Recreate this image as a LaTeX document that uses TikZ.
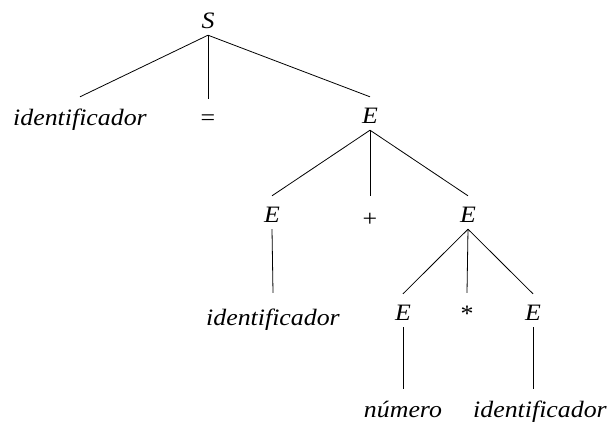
\documentclass[tikz,border=0pt]{standalone}
\usepackage{fontspec}
\setmainfont{Liberation Serif}[FakeStretch=1.1]
\begin{document}
\begin{tikzpicture}[x=1pt,y=-1pt,
  lbl/.style={anchor=base, inner xsep=0pt, inner ysep=7pt,
    text depth=0pt, text height=19pt,
    font=\fontsize{23.5}{28}\selectfont},
  var/.style={lbl, font=\fontsize{23.5}{28}\selectfont\itshape},
  word/.style={var, text height=21pt},
  edge/.style={line width=0.8pt}]
\useasboundingbox (0,0) rectangle (613,426);
% nodes of the parse tree
\node[var] (S) at (208,28) {S};
\node[word] (id1) at (80,125) {identificador};
\node[lbl] (eq) at (208,125) {=};
\node[var] (E1) at (370,123) {E};
\node[var] (E2L) at (272,222) {E};
\node[lbl, text height=23pt] (plus) at (370,226) {+};
\node[var] (E2R) at (468,222) {E};
\node[word, text height=25pt] (id3) at (273,325) {identificador};
\node[var] (E3L) at (403,320) {E};
\node[lbl, text height=21pt] (star) at (467,321) {*};
\node[var] (E3R) at (533,320) {E};
\node[word] (num) at (403,417) {número};
\node[word] (id4) at (540,417) {identificador};
% branches
\draw[edge] (S.south) -- (id1.north);
\draw[edge] (S.south) -- (eq.north);
\draw[edge] (S.south) -- (E1.north);
\draw[edge] (E1.south) -- (E2L.north);
\draw[edge] (E1.south) -- (plus.north);
\draw[edge] (E1.south) -- (E2R.north);
\draw[edge] (E2L.south) -- (id3.north);
\draw[edge] (E2R.south) -- (E3L.north);
\draw[edge] (E2R.south) -- (star.north);
\draw[edge] (E2R.south) -- (E3R.north);
\draw[edge] (E3L.south) -- (num.north);
\draw[edge] (E3R.south) -- (E3R.south |- id4.north);
\end{tikzpicture}
\end{document}
